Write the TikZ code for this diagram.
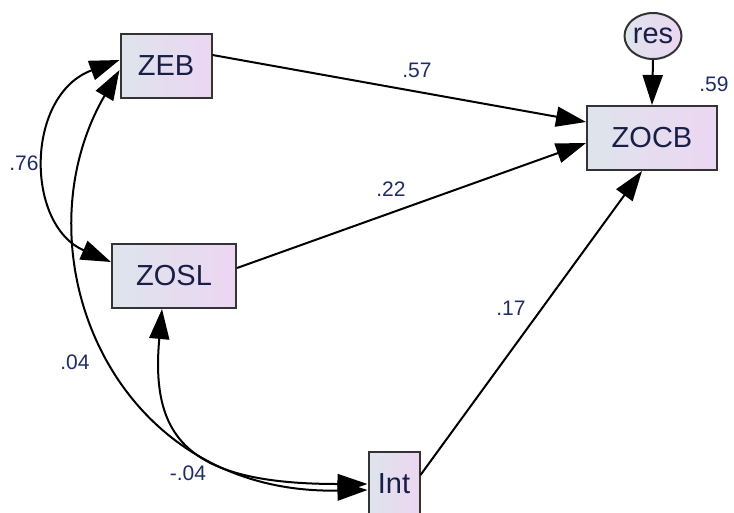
\documentclass[tikz,border=0pt]{standalone}
\usepackage{fontspec}
\setmainfont{Liberation Sans}
\usetikzlibrary{arrows.meta,shapes.geometric}
\definecolor{boxleft}{RGB}{222,228,236}
\definecolor{boxright}{RGB}{236,214,242}
\definecolor{txtcol}{RGB}{25,30,70}
\definecolor{estcol}{RGB}{30,45,100}

\begin{document}
\begin{tikzpicture}[x=1pt,y=-1pt,
  obsbox/.style={draw=black!80,line width=2pt,left color=boxleft,right color=boxright,
    inner sep=0pt,minimum height=64pt,text=txtcol,font=\fontsize{29}{29}\selectfont},
  resvar/.style={ellipse,draw=black!80,line width=2pt,left color=boxleft,right color=boxright,
    inner sep=0pt,minimum width=55pt,minimum height=46pt,text=txtcol,font=\fontsize{29}{29}\selectfont},
  reg/.style={line width=2pt,-{Triangle[length=30pt,width=20pt]}},
  covarc/.style={line width=2pt,{Triangle[length=30pt,width=20pt]}-{Triangle[length=30pt,width=20pt]}},
  estlbl/.style={text=estcol,font=\fontsize{21}{21}\selectfont}]
  \clip (0,0) rectangle (734,512);
  \useasboundingbox (0,0) rectangle (734,512);
  % Observed variables
  \node[obsbox,minimum width=91pt] (zeb) at (166,66) {ZEB};
  \node[obsbox,minimum width=124pt] (zosl) at (174,276) {ZOSL};
  \node[obsbox,minimum width=130pt] (zocb) at (652,138) {ZOCB};
  \node[obsbox,minimum width=51pt] (int) at (394,484) {Int};
  % Residual
  \node[resvar] (res) at (653,36) {res};
  % Regression paths
  \draw[reg] ([yshift=11pt]zeb.east) -- ([yshift=16pt]zocb.west);
  \draw[reg] ([yshift=8pt]zosl.east) -- ([yshift=-5pt]zocb.west);
  \draw[reg] ([yshift=9pt]int.east) -- ([xshift=-10pt]zocb.south);
  \draw[reg] (res.south) -- (zocb.north);
  % Covariances
  \draw[covarc] ([yshift=6pt]zeb.west) .. controls (25,95) and (25,225) .. ([yshift=14pt]zosl.west);
  \draw[covarc] ([yshift=-4pt]zeb.west) .. controls (15,250) and (110,495) .. ([yshift=-6pt]int.west);
  \draw[covarc] ([xshift=-12pt]zosl.south) .. controls (150,440) and (190,484) .. (int.west);
  % Estimates
  \node[estlbl] (e57) at (417,70) {.57};
  \node[estlbl] (e22) at (391,189) {.22};
  \node[estlbl] (e17) at (511,308) {.17};
  \node[estlbl] (e59) at (714,84) {.59};
  \node[estlbl] (e76) at (24,163) {.76};
  \node[estlbl] (e04) at (75,362) {.04};
  \node[estlbl] (em04) at (188,473) {-.04};
\end{tikzpicture}
\end{document}
